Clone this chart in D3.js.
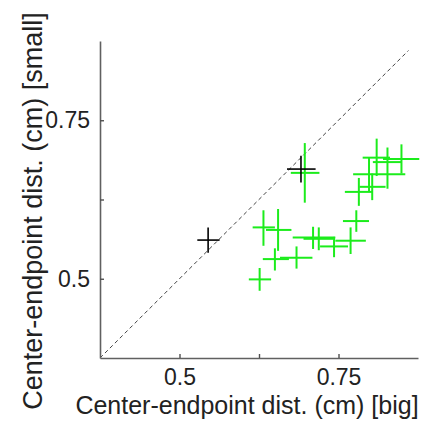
<!DOCTYPE html>
<html><head><meta charset="utf-8">
<script src="https://cdn.jsdelivr.net/npm/d3@7"></script>
<style>body{margin:0;background:#fff}svg{display:block}text{font-family:"Liberation Sans",Arial,sans-serif}</style>
</head><body><svg id="c" width="441" height="428"></svg>
<script>
// Black crosses
const blackX  = [0.545, 0.691];
const blackY  = [0.561, 0.673];
const blackXL = [0.528, 0.669];
const blackXR = [0.563, 0.714];
const blackYL = [0.541, 0.652];
const blackYH = [0.581, 0.694];
// Green crosses
const greenX  = [0.697,0.632,0.655,0.650,0.684,0.626,0.710,0.719,0.743,0.769,0.778,0.782,0.803,0.810,0.849,0.827,0.798];
const greenY  = [0.667,0.581,0.577,0.531,0.533,0.499,0.565,0.563,0.551,0.560,0.591,0.637,0.645,0.691,0.689,0.684,0.665];
const greenXL = [0.675,0.615,0.636,0.631,0.658,0.609,0.678,0.695,0.721,0.745,0.757,0.760,0.783,0.788,0.820,0.804,0.773];
const greenXR = [0.720,0.650,0.676,0.672,0.709,0.644,0.745,0.742,0.765,0.793,0.798,0.804,0.824,0.831,0.877,0.849,0.855];
const greenYL = [0.620,0.552,0.544,0.513,0.516,0.481,0.547,0.545,0.534,0.539,0.574,0.615,0.624,0.662,0.666,0.642,0.637];
const greenYH = [0.714,0.608,0.610,0.548,0.551,0.517,0.582,0.581,0.566,0.581,0.608,0.659,0.666,0.721,0.712,0.707,0.691];
const xTicks = [0.5, 0.625, 0.75];
const yTicks = [0.5, 0.625, 0.75];
const xLabelTicks = [0.5, 0.75];
const diag = [0.375, 0.86];

const svg = d3.select("#c");
const x = d3.scaleLinear().domain([0.375, 0.875]).range([100, 418]);
const y = d3.scaleLinear().domain([0.375, 0.875]).range([358, 41]);
const fmt = d => xLabelTicks.includes(d) ? String(d) : "";

// dashed diagonal
svg.append("line")
  .attr("x1", x(diag[0])).attr("y1", y(diag[0]))
  .attr("x2", x(diag[1])).attr("y2", y(diag[1]))
  .attr("stroke", "#444").attr("stroke-width", 1).attr("stroke-dasharray", "4,3");

function crosses(X, Y, XL, XR, YL, YH, color, w) {
  const g = svg.append("g").attr("stroke", color).attr("stroke-width", w);
  X.forEach((d, i) => {
    g.append("line").attr("x1", x(XL[i])).attr("x2", x(XR[i])).attr("y1", y(Y[i])).attr("y2", y(Y[i]));
    g.append("line").attr("x1", x(d)).attr("x2", x(d)).attr("y1", y(YL[i])).attr("y2", y(YH[i]));
  });
}
crosses(greenX, greenY, greenXL, greenXR, greenYL, greenYH, "#1cec1c", 2);
crosses(blackX, blackY, blackXL, blackXR, blackYL, blackYH, "#000", 1.6);

// axes
const xa = svg.append("g").attr("transform", "translate(0,358)")
  .call(d3.axisBottom(x).tickValues(xTicks).tickFormat(fmt).tickSizeInner(-4).tickSizeOuter(0).tickPadding(11));
const ya = svg.append("g").attr("transform", "translate(100,0)")
  .call(d3.axisLeft(y).tickValues(yTicks).tickFormat(fmt).tickSizeInner(-4).tickSizeOuter(0).tickPadding(10));
[xa, ya].forEach(a => {
  a.select(".domain").attr("stroke", "#606060").attr("stroke-width", 1.6);
  a.selectAll(".tick line").attr("stroke", "#505050").attr("stroke-width", 1.4);
  a.selectAll(".tick text").attr("fill", "#222").style("font-size", "23px");
});

svg.append("text").attr("x", 247).attr("y", 414).attr("text-anchor", "middle")
  .attr("fill", "#222").style("font-size", "25px").text("Center-endpoint dist. (cm) [big]");
svg.append("text").attr("transform", "translate(42,211) rotate(-90)").attr("text-anchor", "middle")
  .attr("fill", "#222").style("font-size", "27px").text("Center-endpoint dist. (cm) [small]");
</script></body></html>
